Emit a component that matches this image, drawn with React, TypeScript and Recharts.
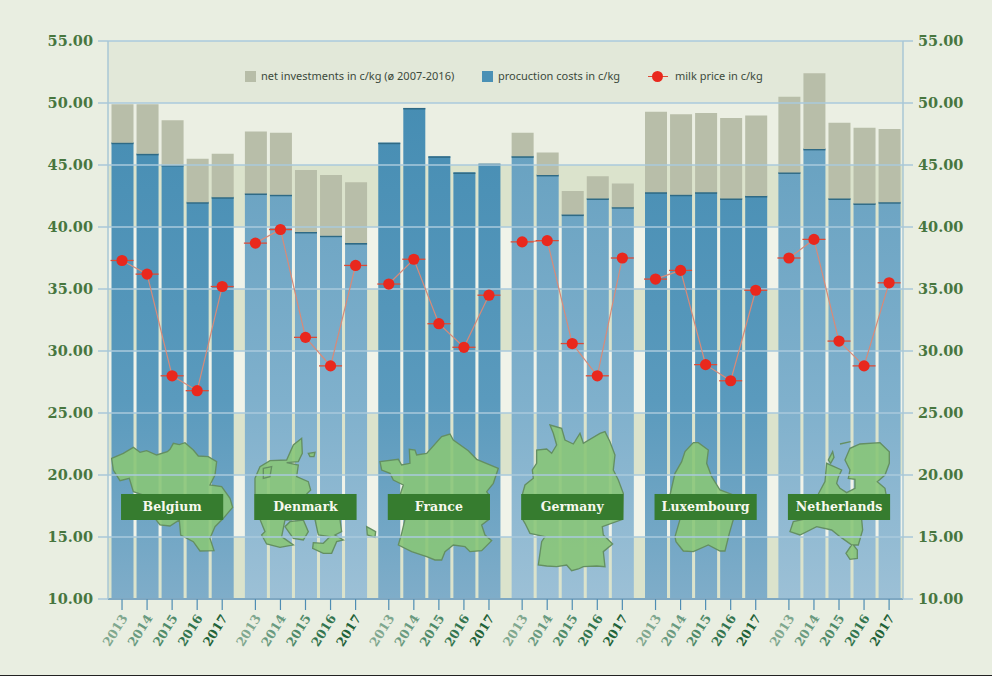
import {
  ComposedChart,
  Bar,
  Line,
  XAxis,
  YAxis,
  ReferenceArea,
  ReferenceLine,
  Legend
} from 'recharts';

const countries = ['Belgium', 'Denmark', 'France', 'Germany', 'Luxembourg', 'Netherlands'];
const years = [2013, 2014, 2015, 2016, 2017];
const yTicks = [10, 15, 20, 25, 30, 35, 40, 45, 50, 55];

const productionCosts = [
  [46.8, 45.9, 45.0, 42.0, 42.4],
  [42.7, 42.6, 39.6, 39.3, 38.7],
  [46.8, 49.6, 45.7, 44.4, 45.1],
  [45.7, 44.2, 41.0, 42.3, 41.6],
  [42.8, 42.6, 42.8, 42.3, 42.5],
  [44.4, 46.3, 42.3, 41.9, 42.0]
];
const netInvestments = [
  [3.1, 4.0, 3.6, 3.5, 3.5],
  [5.0, 5.0, 5.0, 4.9, 4.9],
  [0, 0, 0, 0, 0],
  [1.9, 1.8, 1.9, 1.8, 1.9],
  [6.5, 6.5, 6.4, 6.5, 6.5],
  [6.1, 6.1, 6.1, 6.1, 5.9]
];
const milkPrice = [
  [37.3, 36.2, 28.0, 26.8, 35.2],
  [38.7, 39.8, 31.1, 28.8, 36.9],
  [35.4, 37.4, 32.2, 30.3, 34.5],
  [38.8, 38.9, 30.6, 28.0, 37.5],
  [35.8, 36.5, 28.9, 27.6, 34.9],
  [37.5, 39.0, 30.8, 28.8, 35.5]
];

// one group is 5.325 year-widths wide, the rest of it is the gap
const GROUP_STEP = 5.325;
const xOf = (group: number, yearIndex: number) => group * GROUP_STEP + yearIndex;

const rows: any[] = [];
const xTicks: number[] = [];
const yearByX: Record<number, number> = {};
countries.forEach((country, g) => {
  years.forEach((year, i) => {
    const x = xOf(g, i);
    xTicks.push(x);
    yearByX[x] = i;
    rows.push({
      x,
      group: g,
      production: productionCosts[g][i],
      investment: netInvestments[g][i],
      milk: milkPrice[g][i]
    });
  });
});

const yearColors = ['#7fa78e', '#6a9a7f', '#4f8a68', '#33754f', '#1f6238'];
const SERIF = '"DejaVu Serif", serif';

function YearTick({ x, y, payload }: any) {
  const i = yearByX[payload.value];
  return (
    <g>
      <line x1={x} x2={x} y1={y - 8} y2={y + 3} stroke="#4f8db3" strokeWidth={1.2} />
      <text
        x={x + 3}
        y={y + 9}
        textAnchor="end"
        dominantBaseline="middle"
        transform={`rotate(-58 ${x + 3} ${y + 9})`}
        fontFamily={SERIF}
        fontWeight="bold"
        fontSize={12.5}
        fill={yearColors[i]}
      >
        {years[i]}
      </text>
    </g>
  );
}

function ProductionBar({ x, y, width, height, payload }: any) {
  if (!height) return null;
  const fill = payload.group % 2 === 0 ? 'url(#prodDark)' : 'url(#prodLight)';
  return (
    <g>
      <rect x={x} y={y} width={width} height={height} fill={fill} />
      {payload.investment > 0 && (
        <rect x={x} y={y - 0.5} width={width} height={2} fill="#2f6a85" />
      )}
      {payload.investment === 0 && (
        <rect x={x} y={y} width={width} height={1.5} fill="#2f6a85" />
      )}
    </g>
  );
}

function MilkDot({ cx, cy, index }: any) {
  if (cy == null || Number.isNaN(cy)) return null;
  return (
    <g key={index}>
      <line x1={cx - 11.5} x2={cx + 11.5} y1={cy} y2={cy} stroke="#dc4a35" strokeWidth={1.3} />
      <circle cx={cx} cy={cy} r={5.6} fill="#e9281d" />
    </g>
  );
}

// outlines traced on a 3x grid, origin is the offset of each map
const mapShapes = [
  {
    at: [90, 420],
    paths: [
      'M65 115L100 100L130 82L150 97L170 92L200 105L232 95L240 88L250 70L268 74L285 68L310 90L325 108L355 110L380 125L375 165L360 195L395 200L420 235L428 262L400 295L375 320L360 355L372 392L330 393L310 365L272 345L268 300L240 318L210 315L195 295L160 225L130 215L118 175L90 182L70 150Z'
    ]
  },
  {
    at: [90, 420],
    paths: [
      'M495 175L510 140L540 122L590 120L610 75L635 55L637 100L625 125L590 128L625 135L620 170L655 185L662 210L650 222L640 298L585 300L575 350L610 375L570 382L530 372L515 345L525 335L510 298L495 298Z',
      'M600 305L640 300L655 335L640 360L610 355L585 320Z',
      'M675 298L750 298L755 335L735 345L760 360L740 365L725 400L700 400L668 385L670 368L700 370L720 350L685 345Z',
      'M655 100L675 97L672 110L660 110Z',
      'M830 320L857 335L855 352L832 345Z',
      'M520 145L545 140L540 170L520 175Z'
    ]
  },
  {
    at: [370, 420],
    paths: [
      'M30 125L85 118L95 135L120 130L118 88L135 90L140 105L170 100L215 50L240 42L250 60L295 92L320 118L385 145L370 190L350 215L357 225L357 298L335 315L345 345L365 362L335 392L300 395L285 380L250 375L225 395L215 420L195 420L170 410L125 395L85 375L95 340L105 298L90 225L100 195L70 180L60 160L35 150Z'
    ]
  },
  {
    at: [370, 420],
    paths: [
      'M540 15L575 25L585 60L610 72L630 40L640 70L690 40L705 35L720 65L735 105L730 150L745 180L760 220L758 298L697 320L700 345L728 372L700 395L705 440L680 438L640 440L625 447L605 452L590 435L560 440L530 438L505 435L515 365L525 350L480 340L465 310L458 298L458 220L465 195L490 175L487 150L500 130L500 90L530 87L545 100L560 75L550 40Z'
    ]
  },
  {
    at: [640, 420],
    paths: [
      'M160 68L175 68L205 90L200 130L215 170L240 210L280 225L280 298L268 340L255 393L240 393L205 375L160 395L130 393L108 365L105 350L120 298L90 225L105 160L125 125L135 95Z'
    ]
  },
  {
    at: [640, 420],
    paths: [
      'M615 120L630 85L660 72L720 68L748 95L748 130L735 165L712 185L735 205L738 222L738 260L665 298L668 330L655 375L640 375L652 390L652 415L630 418L618 400L635 375L600 350L575 330L530 320L480 345L450 335L460 305L490 298L535 222L555 185L560 130L605 150L595 172L590 190L600 205L620 218L645 205L645 178L625 175L630 150Z',
      'M565 120L578 95L582 112L572 130Z',
      'M600 72L632 65'
    ]
  }
];

function CountryMaps() {
  return (
    <g>
      {mapShapes.map((shape, i) => (
        <g key={i} transform={`translate(${shape.at[0]} ${shape.at[1]}) scale(0.3333)`}>
          {shape.paths.map((d, j) => (
            <path
              key={j}
              d={d}
              fill={d.endsWith('Z') ? '#88c578' : 'none'}
              fillOpacity={0.9}
              stroke="#648f62"
              strokeWidth={4}
            />
          ))}
        </g>
      ))}
    </g>
  );
}

// reference line shapes sit above the bars, reference areas do not
function CountryTag({ x1, x2, y1, name }: any) {
  return (
    <g>
      <rect x={x1 - 1} y={y1 - 13} width={x2 - x1 + 2} height={26} fill="#367c2f" />
      <text
        x={(x1 + x2) / 2}
        y={y1}
        textAnchor="middle"
        dominantBaseline="central"
        fontFamily={SERIF}
        fontWeight="bold"
        fontSize={12.5}
        fill="#f6f8ee"
      >
        {name}
      </text>
    </g>
  );
}

const legendText = { position: 'absolute', top: 68, fontSize: 11, color: '#3c4a3c', whiteSpace: 'nowrap' } as const;

function ChartLegend() {
  return (
    <div style={{ position: 'relative', height: 0, fontFamily: '"Noto Sans", sans-serif' }}>
      <div style={{ position: 'absolute', left: 245, top: 71, width: 11, height: 11, background: '#b7bda8' }} />
      <span style={{ ...legendText, left: 261 }}>net investments in c/kg (ø 2007-2016)</span>
      <div style={{ position: 'absolute', left: 482, top: 71, width: 11, height: 11, background: '#4a90b5' }} />
      <span style={{ ...legendText, left: 498 }}>procuction costs in c/kg</span>
      <div style={{ position: 'absolute', left: 648, top: 76, width: 20, height: 1.2, background: '#dc4a35' }} />
      <div style={{ position: 'absolute', left: 652, top: 71, width: 11, height: 11, borderRadius: 6, background: '#e9281d' }} />
      <span style={{ ...legendText, left: 675 }}>milk price in c/kg</span>
    </div>
  );
}

const axisTick = { fill: '#47763f', fontFamily: SERIF, fontWeight: 'bold', fontSize: 14.5 };

export default function App() {
  return (
    <div style={{ position: 'absolute', left: 0, top: 0, width: 992, height: 675, background: '#e9eee1', borderBottom: '1px solid #222' }}>
      <ComposedChart
        width={992}
        height={675}
        data={rows}
        margin={{ top: 41, right: 0, bottom: 0, left: 0 }}
        barGap={0}
      >
        <defs>
          <linearGradient id="prodDark" gradientUnits="userSpaceOnUse" x1="0" y1="100" x2="0" y2="599">
            <stop offset="0" stopColor="#468db3" />
            <stop offset="0.6" stopColor="#5a9abd" />
            <stop offset="1" stopColor="#7fadc9" />
          </linearGradient>
          <linearGradient id="prodLight" gradientUnits="userSpaceOnUse" x1="0" y1="100" x2="0" y2="599">
            <stop offset="0" stopColor="#649fbf" />
            <stop offset="0.6" stopColor="#7fb0cc" />
            <stop offset="1" stopColor="#9cc0d6" />
          </linearGradient>
        </defs>
        <XAxis
          type="number"
          dataKey="x"
          domain={[-0.56, 31.18]}
          ticks={xTicks}
          interval={0}
          height={76}
          tick={<YearTick />}
          tickLine={false}
          axisLine={{ stroke: '#7fa8c2', strokeWidth: 2 }}
        />
        <YAxis
          yAxisId="left"
          orientation="left"
          width={108}
          domain={[10, 55]}
          ticks={yTicks}
          interval={0}
          allowDataOverflow
          tickSize={10}
          tickMargin={5}
          tick={axisTick}
          tickFormatter={(v: number) => v.toFixed(2)}
          tickLine={{ stroke: '#a9c7d8', strokeWidth: 1.5 }}
          axisLine={{ stroke: '#a9c7d5', strokeWidth: 1.5 }}
        />
        <YAxis
          yAxisId="right"
          orientation="right"
          width={89}
          domain={[10, 55]}
          ticks={yTicks}
          interval={0}
          allowDataOverflow
          tickSize={10}
          tickMargin={5}
          tick={axisTick}
          tickFormatter={(v: number) => v.toFixed(2)}
          tickLine={{ stroke: '#a9c7d8', strokeWidth: 1.5 }}
          axisLine={{ stroke: '#a9c7d5', strokeWidth: 1.5 }}
        />
        {yTicks.slice(0, -1).map((t, i) => (
          <ReferenceArea
            key={t}
            yAxisId="left"
            y1={t}
            y2={t + 5}
            fill={i === 8 ? '#e2e8d9' : i === 7 ? '#ebefe3' : i % 2 === 0 ? '#dbe3cc' : '#f0f3e9'}
            fillOpacity={1}
            stroke="none"
          />
        ))}
        <Bar yAxisId="left" dataKey="production" stackId="a" barSize={22} shape={<ProductionBar />} isAnimationActive={false} />
        <Bar yAxisId="left" dataKey="investment" stackId="a" barSize={22} fill="#b8bea9" isAnimationActive={false} />
        <ReferenceLine yAxisId="left" y={10} shape={<CountryMaps />} />
        {yTicks.map((t) => (
          <ReferenceLine key={t} yAxisId="left" y={t} stroke="#a9c9dc" strokeOpacity={0.75} strokeWidth={1.8} />
        ))}
        {countries.map((name, g) => (
          <ReferenceLine
            key={name}
            yAxisId="left"
            segment={[
              { x: xOf(g, 0), y: 17.42 },
              { x: xOf(g, 4), y: 17.42 }
            ]}
            shape={<CountryTag name={name} />}
          />
        ))}
        {countries.map((name, g) => (
          <Line
            key={name}
            yAxisId="left"
            data={rows.filter((r) => r.group === g)}
            dataKey="milk"
            stroke="#d98a78"
            strokeWidth={1.2}
            dot={<MilkDot />}
            activeDot={false}
            isAnimationActive={false}
          />
        ))}
        <Legend content={<ChartLegend />} wrapperStyle={{ left: 0, top: 0, width: 992, height: 0 }} />
      </ComposedChart>
    </div>
  );
}
